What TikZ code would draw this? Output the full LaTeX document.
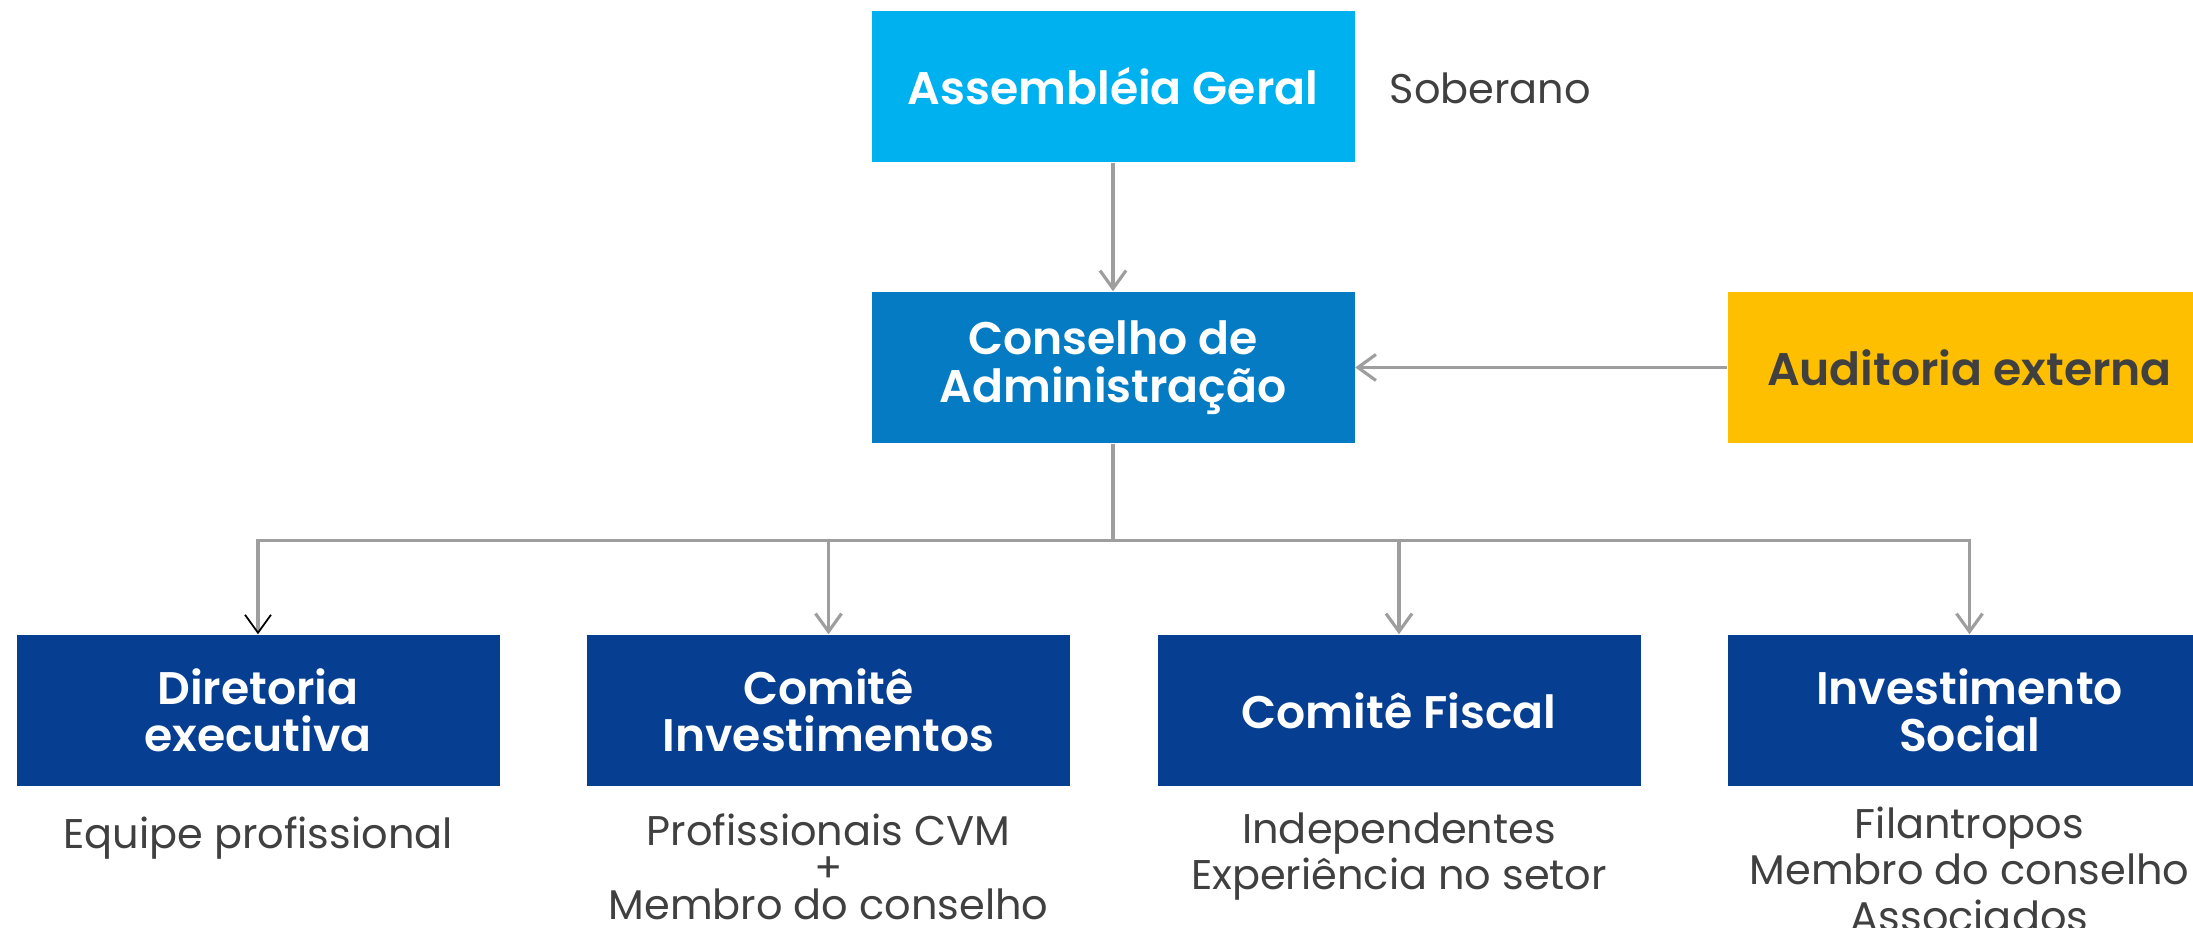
\documentclass[tikz,border=0pt]{standalone}
\usepackage{fontspec}
\setmainfont{Poppins}[BoldFont={Poppins SemiBold}]
\usetikzlibrary{positioning,arrows.meta}

\definecolor{agblue}{HTML}{00B1EF}
\definecolor{cablue}{HTML}{047BC3}
\definecolor{navy}{HTML}{063E92}
\definecolor{gold}{HTML}{FDBF00}
\definecolor{txtgray}{HTML}{404040}
\definecolor{linegray}{HTML}{9E9E9E}

\begin{document}
\begin{tikzpicture}[
  >={Straight Barb[length=1.8mm,width=2.6mm]},
  node distance=0.3cm,
  box/.style={rectangle, minimum width=4.83cm, minimum height=1.51cm, inner sep=0pt,
    align=center, text=white, font=\fontsize{13}{13.5}\selectfont\bfseries},
  desc/.style={align=center, inner sep=0pt, text=txtgray, font=\fontsize{11.8}{13.1}\selectfont},
  conn/.style={draw=linegray, line width=0.9pt}
]
\useasboundingbox (0,0) rectangle (21.93,9.28);

% --- Topo ---
\node[box, fill=agblue] (ag) at (11.13,8.415) {Assembléia Geral};
\node[desc, anchor=west] (sob) at (13.89,8.40) {Soberano};

% --- Conselho e auditoria ---
\node[box, fill=cablue] (ca) at (11.13,5.605) {Conselho de\\Administração};
\node[box, fill=gold, text=txtgray] (aud) at (19.695,5.605) {Auditoria externa};

\draw[conn,->] (ag) -- (ca);
\draw[conn,->] (aud) -- (ca);

% --- Órgãos abaixo do conselho ---
\node[box, fill=navy] (dir) at (2.58,2.175)   {Diretoria\\executiva};
\node[box, fill=navy] (ci)  at (8.285,2.175)  {Comitê\\Investimentos};
\node[box, fill=navy] (cf)  at (13.99,2.175)  {Comitê Fiscal};
\node[box, fill=navy] (is)  at (19.695,2.175) {Investimento\\Social};

\draw[conn] (ca.south) -- ++(0,-0.97) coordinate (split);
\draw[conn,-{Straight Barb[length=1.8mm,width=2.6mm,color=black,line width=0.5pt]}] (split) -| (dir);
\draw[conn,->] (split) -| (ci);
\draw[conn,->] (split) -| (cf);
\draw[conn,->] (split) -| (is);

% --- Composição ---
\node[desc, below=0.29cm of dir] (d_dir) {Equipe profissional};
\node[desc, below=0.26cm of ci, font=\fontsize{11.8}{10.6}\selectfont] (d_ci)
  {Profissionais CVM\\+\\Membro do conselho};
\node[desc, below=0.25cm of cf] (d_cf) {Independentes\\Experiência no setor};
\node[desc, below=0.20cm of is] (d_is) {Filantropos\\Membro do conselho\\Associados};

\end{tikzpicture}
\end{document}
